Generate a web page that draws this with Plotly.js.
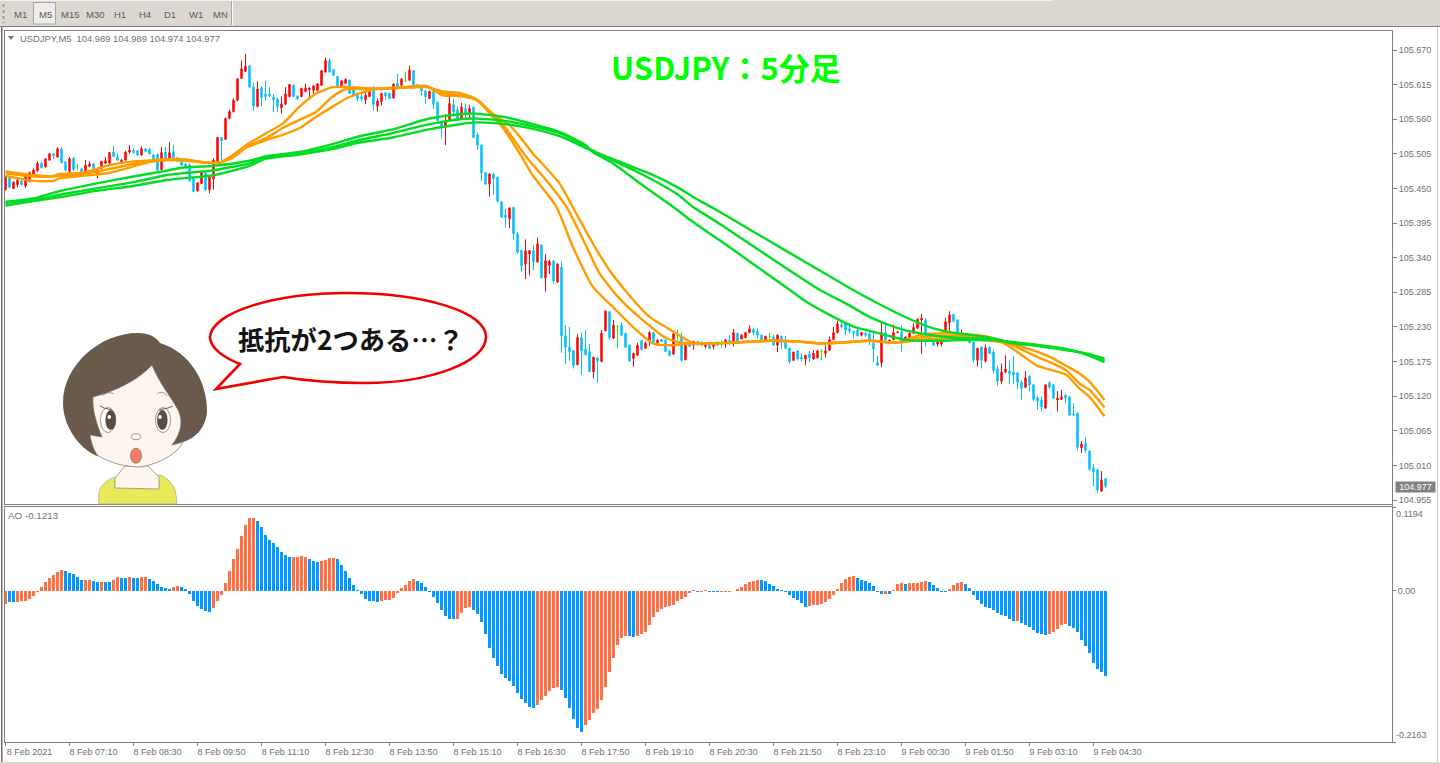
<!DOCTYPE html>
<html><head><meta charset="utf-8">
<script src="https://cdn.plot.ly/plotly-3.0.1.min.js"></script>
<style>html,body{margin:0;padding:0;background:#fff;overflow:hidden}#c{width:1440px;height:764px}</style>
</head><body><div id="c"></div>
<script>
const opens=[105.448,105.467,105.450,105.456,105.462,105.454,105.461,105.473,105.478,105.490,
105.484,105.495,105.505,105.500,105.513,105.492,105.477,105.498,105.485,105.481,
105.474,105.485,105.489,105.472,105.482,105.490,105.490,105.508,105.500,105.490,
105.495,105.508,105.510,105.510,105.503,105.513,105.512,105.503,105.504,105.480,
105.508,105.498,105.508,105.499,105.496,105.489,105.487,105.466,105.446,105.458,
105.475,105.448,105.465,105.493,105.531,105.528,105.561,105.572,105.590,105.625,
105.636,105.645,105.611,105.580,105.610,105.600,105.600,105.595,105.592,105.578,
105.584,105.596,105.614,105.597,105.596,105.604,105.607,105.606,105.606,105.614,
105.635,105.653,105.639,105.628,105.613,105.617,105.622,105.611,105.601,105.596,
105.591,105.596,105.605,105.581,105.588,105.602,105.601,105.594,105.617,105.614,
105.621,105.622,105.637,105.615,105.609,105.605,105.593,105.604,105.587,105.556,
105.547,105.558,105.583,105.575,105.561,105.577,105.570,105.579,105.535,105.519,
105.475,105.457,105.473,105.468,105.429,105.408,105.402,105.420,105.378,105.352,
105.330,105.346,105.351,105.333,105.360,105.308,105.328,105.335,105.301,105.325,
105.216,105.198,105.192,105.170,105.213,105.195,105.191,105.159,105.181,105.175,
105.224,105.254,105.212,105.231,105.233,105.220,105.201,105.180,105.185,105.208,
105.196,105.208,105.221,105.205,105.210,105.209,105.192,105.187,105.217,105.214,
105.178,105.205,105.201,105.207,105.206,105.199,105.205,105.199,105.206,105.204,
105.205,105.209,105.205,105.220,105.211,105.213,105.221,105.226,105.223,105.217,
105.209,105.215,105.214,105.201,105.215,105.209,105.196,105.177,105.192,105.182,
105.179,105.187,105.179,105.181,105.192,105.188,105.193,105.210,105.221,105.233,
105.235,105.227,105.223,105.225,105.217,105.220,105.219,105.204,105.174,105.173,
105.221,105.206,105.210,105.221,105.222,105.209,105.213,105.220,105.228,105.241,
105.241,105.220,105.208,105.203,105.203,105.220,105.237,105.250,105.241,105.212,
105.216,105.209,105.206,105.177,105.198,105.176,105.198,105.190,105.163,105.144,
105.158,105.160,105.158,105.157,105.142,105.134,105.152,105.138,105.117,105.114,
105.101,105.141,105.138,105.114,105.115,105.122,105.119,105.091,105.093,105.038,
105.045,105.033,105.006,105.003,104.969,104.989];
const highs=[105.470,105.470,105.461,105.465,105.464,105.472,105.477,105.482,105.493,105.493,
105.498,105.506,105.506,105.516,105.516,105.493,105.500,105.500,105.489,105.483,
105.495,105.493,105.490,105.481,105.494,105.500,105.508,105.518,105.506,105.497,
105.510,105.519,105.514,105.511,105.517,105.514,105.515,105.505,105.506,105.516,
105.516,105.524,105.519,105.500,105.497,105.490,105.490,105.467,105.460,105.478,
105.477,105.470,105.498,105.532,105.532,105.563,105.575,105.593,105.625,105.653,
105.664,105.646,105.618,105.620,105.612,105.621,105.611,105.600,105.594,105.596,
105.611,105.616,105.615,105.598,105.610,105.617,105.611,105.614,105.617,105.638,
105.658,105.657,105.640,105.629,105.622,105.625,105.623,105.612,105.602,105.604,
105.606,105.606,105.613,105.593,105.602,105.603,105.602,105.617,105.632,105.625,
105.635,105.645,105.638,105.616,105.610,105.606,105.606,105.605,105.588,105.557,
105.568,105.596,105.593,105.580,105.586,105.585,105.583,105.580,105.539,105.520,
105.476,105.474,105.474,105.469,105.430,105.418,105.420,105.421,105.381,105.353,
105.369,105.352,105.360,105.372,105.361,105.346,105.337,105.336,105.331,105.334,
105.233,105.230,105.193,105.219,105.221,105.225,105.203,105.183,105.182,105.225,
105.256,105.255,105.241,105.233,105.238,105.221,105.202,105.189,105.205,105.210,
105.207,105.224,105.222,105.211,105.211,105.210,105.193,105.220,105.226,105.222,
105.202,105.209,105.208,105.208,105.207,105.205,105.206,105.206,105.207,105.209,
105.211,105.217,105.227,105.221,105.219,105.222,105.233,105.229,105.228,105.218,
105.216,105.221,105.217,105.218,105.216,105.216,105.197,105.191,105.193,105.188,
105.186,105.192,105.193,105.194,105.194,105.201,105.215,105.230,105.240,105.237,
105.238,105.236,105.224,105.226,105.222,105.222,105.225,105.224,105.184,105.236,
105.237,105.210,105.234,105.223,105.233,105.215,105.224,105.236,105.244,105.251,
105.244,105.221,105.209,105.210,105.210,105.244,105.255,105.251,105.242,105.226,
105.217,105.210,105.207,105.197,105.199,105.202,105.199,105.194,105.168,105.172,
105.185,105.176,105.184,105.158,105.145,105.160,105.153,105.139,105.120,105.120,
105.139,105.144,105.139,105.128,105.130,105.123,105.120,105.109,105.094,105.049,
105.055,105.034,105.012,105.004,105.001,104.989];
const lows=[105.447,105.450,105.449,105.452,105.455,105.451,105.460,105.472,105.476,105.482,
105.483,105.494,105.497,105.499,105.490,105.477,105.474,105.478,105.479,105.476,
105.472,105.484,105.481,105.466,105.480,105.489,105.489,105.500,105.494,105.489,
105.494,105.505,105.506,105.502,105.502,105.508,105.504,105.495,105.478,105.479,
105.498,105.497,105.498,105.492,105.486,105.484,105.460,105.444,105.445,105.457,
105.446,105.442,105.448,105.492,105.495,105.527,105.560,105.571,105.589,105.624,
105.635,105.610,105.573,105.579,105.580,105.590,105.596,105.572,105.572,105.569,
105.583,105.595,105.595,105.590,105.595,105.603,105.593,105.600,105.604,105.613,
105.634,105.634,105.629,105.612,105.612,105.616,105.600,105.596,105.588,105.588,
105.584,105.595,105.574,105.572,105.582,105.591,105.592,105.592,105.610,105.613,
105.619,105.621,105.608,105.611,105.598,105.584,105.592,105.576,105.553,105.531,
105.519,105.557,105.564,105.559,105.560,105.560,105.561,105.530,105.511,105.462,
105.456,105.437,105.440,105.427,105.403,105.388,105.387,105.368,105.346,105.318,
105.306,105.312,105.320,105.332,105.307,105.286,105.314,105.299,105.300,105.189,
105.171,105.176,105.164,105.169,105.154,105.185,105.158,105.148,105.141,105.174,
105.223,105.209,105.211,105.196,105.216,105.197,105.175,105.167,105.184,105.193,
105.195,105.200,105.204,105.200,105.206,105.190,105.183,105.185,105.209,105.175,
105.177,105.198,105.194,105.200,105.199,105.196,105.195,105.194,105.200,105.197,
105.197,105.201,105.199,105.207,105.210,105.212,105.220,105.217,105.212,105.208,
105.208,105.210,105.200,105.190,105.195,105.195,105.171,105.176,105.178,105.175,
105.169,105.174,105.178,105.180,105.177,105.182,105.192,105.209,105.220,105.228,
105.217,105.220,105.212,105.215,105.215,105.214,105.201,105.174,105.168,105.166,
105.206,105.205,105.209,105.220,105.190,105.208,105.212,105.219,105.227,105.187,
105.199,105.208,105.200,105.199,105.199,105.219,105.222,105.237,105.211,105.209,
105.208,105.204,105.173,105.167,105.164,105.173,105.187,105.156,105.136,105.139,
105.157,105.139,105.139,105.131,105.115,105.133,105.128,105.112,105.098,105.096,
105.100,105.131,105.116,105.096,105.114,105.109,105.088,105.088,105.034,105.030,
105.030,105.001,104.977,104.966,104.968,104.974];
const closes=[105.469,105.452,105.460,105.463,105.456,105.469,105.475,105.479,105.490,105.483,
105.497,105.505,105.502,105.513,105.491,105.479,105.497,105.480,105.485,105.477,
105.487,105.489,105.482,105.480,105.493,105.494,105.507,105.501,105.495,105.495,
105.508,105.511,105.507,105.503,105.513,105.509,105.505,105.496,105.479,105.507,
105.499,105.507,105.499,105.493,105.487,105.485,105.463,105.445,105.459,105.477,
105.448,105.469,105.495,105.531,105.526,105.561,105.572,105.590,105.624,105.640,
105.644,105.611,105.581,105.608,105.595,105.596,105.597,105.591,105.580,105.584,
105.600,105.615,105.596,105.593,105.609,105.609,105.609,105.613,105.616,105.637,
105.653,105.635,105.630,105.613,105.621,105.623,105.601,105.597,105.592,105.592,
105.598,105.605,105.584,105.589,105.601,105.597,105.593,105.616,105.611,105.624,
105.621,105.638,105.614,105.612,105.605,105.596,105.604,105.584,105.558,105.547,
105.556,105.585,105.572,105.561,105.579,105.569,105.577,105.531,105.519,105.475,
105.457,105.473,105.466,105.430,105.405,105.404,105.419,105.378,105.349,105.327,
105.351,105.351,105.333,105.362,105.308,105.335,105.334,105.303,105.330,105.216,
105.198,105.191,105.168,105.213,105.192,105.186,105.159,105.182,105.176,105.220,
105.255,105.213,105.233,105.231,105.217,105.198,105.176,105.188,105.201,105.194,
105.204,105.221,105.207,105.209,105.207,105.191,105.185,105.219,105.217,105.177,
105.201,105.199,105.207,105.202,105.201,105.204,105.196,105.205,105.201,105.204,
105.209,105.204,105.221,105.208,105.217,105.221,105.227,105.221,105.217,105.209,
105.215,105.215,105.201,105.217,105.209,105.196,105.175,105.190,105.179,105.179,
105.185,105.181,105.188,105.192,105.192,105.192,105.210,105.221,105.235,105.230,
105.225,105.223,105.220,105.216,105.221,105.217,105.209,105.195,105.169,105.221,
105.209,105.209,105.221,105.222,105.205,105.214,105.220,105.229,105.242,105.244,
105.220,105.209,105.201,105.209,105.209,105.238,105.249,105.239,105.212,105.218,
105.209,105.205,105.177,105.196,105.177,105.197,105.188,105.161,105.144,105.158,
105.163,105.156,105.154,105.142,105.133,105.149,105.138,105.115,105.112,105.103,
105.138,105.134,105.117,105.117,105.119,105.117,105.090,105.090,105.039,105.044,
105.034,105.004,105.000,104.971,104.987,104.977];

const aoValues=[-.0186,-.0158,-.0158,-.0158,-.0143,-.0143,-.0115,-.0072,-.0014,.0057,
.0129,.0186,.0229,.0272,.0301,.0286,.0258,.0243,.0200,.0158,
.0158,.0158,.0143,.0129,.0129,.0129,.0129,.0158,.0200,.0186,
.0186,.0200,.0186,.0186,.0200,.0200,.0172,.0143,.0100,.0057,
.0043,.0033,.0057,.0072,.0057,.0029,-.0043,-.0143,-.0215,-.0258,
-.0286,-.0301,-.0243,-.0143,-.0057,.0115,.0286,.0458,.0601,.0787,
.0944,.1045,.1045,.1002,.0916,.0801,.0730,.0687,.0630,.0558,
.0515,.0487,.0487,.0487,.0501,.0491,.0458,.0429,.0415,.0429,
.0444,.0472,.0472,.0458,.0372,.0286,.0186,.0086,.0014,-.0043,
-.0115,-.0143,-.0143,-.0158,-.0143,-.0129,-.0129,-.0100,-.0029,.0043,
.0086,.0143,.0172,.0143,.0115,.0057,-.0010,-.0086,-.0172,-.0272,
-.0358,-.0401,-.0401,-.0401,-.0315,-.0243,-.0229,-.0272,-.0329,-.0444,
-.0615,-.0816,-.0959,-.1073,-.1188,-.1245,-.1288,-.1359,-.1460,-.1545,
-.1603,-.1660,-.1674,-.1631,-.1560,-.1503,-.1431,-.1388,-.1374,-.1417,
-.1531,-.1674,-.1832,-.1960,-.2018,-.1918,-.1846,-.1746,-.1689,-.1560,
-.1374,-.1159,-.0959,-.0773,-.0673,-.0644,-.0644,-.0658,-.0644,-.0615,
-.0587,-.0487,-.0372,-.0301,-.0258,-.0229,-.0215,-.0200,-.0143,-.0115,
-.0086,-.0024,.0014,-.0010,-.0010,.0010,-.0010,-.0010,-.0019,-.0010,
-.0010,-.0010,.0005,.0029,.0057,.0100,.0129,.0143,.0158,.0158,
.0143,.0100,.0072,.0029,.0014,-.0010,-.0057,-.0100,-.0129,-.0172,
-.0229,-.0215,-.0200,-.0200,-.0186,-.0158,-.0115,-.0057,.0029,.0115,
.0172,.0200,.0215,.0186,.0158,.0143,.0115,.0072,-.0010,-.0043,
-.0043,-.0043,.0014,.0100,.0115,.0100,.0115,.0115,.0115,.0129,
.0143,.0129,.0086,.0043,-.0010,-.0010,.0029,.0086,.0115,.0129,
.0100,.0043,-.0057,-.0129,-.0186,-.0229,-.0243,-.0272,-.0315,-.0344,
-.0358,-.0401,-.0429,-.0429,-.0458,-.0487,-.0515,-.0558,-.0601,-.0615,
-.0630,-.0615,-.0587,-.0544,-.0487,-.0472,-.0501,-.0529,-.0587,-.0701,
-.0787,-.0887,-.1030,-.1116,-.1159,-.1213];
// alternating run lengths of the AO colour, starting with orange
const aoColourRuns=[1,2,12,5,2,2,1,2,2,2,1,2,2,6,2,8,11,9,4,3,4,11,9,10,4,16,6,6,11,2,15,1,2,3,10,12,12,7,1,1,3,1,5,5,4,13,1,7,5,10];

const orange1Bars=[0,7,12,13.5,19.3,26,32,36,41.8,45.2,50.2,53.5,56.8,60.2,65.2,69.3,73.5,77.7,81.8,85.2,88.5,92.7,99.3,105.2,109.3,113.5,117.7,121.8,124.3,128.5,131.8,137.7,141.8,146.8,151.8,157.7,161.8,166.8,170.6,178.5,191,197.7,203.5,208.5,216,222.7,228.5,235.2,244.3,249.3,253.5,257.7,261.8,265.2,268.5,271,274.75];
const orange1=[105.477,105.471,105.470,105.473,105.475,105.487,105.493,105.494,105.497,105.496,105.491,105.491,105.503,105.519,105.538,105.553,105.580,105.601,105.611,105.611,105.610,105.609,105.611,105.613,105.598,105.597,105.591,105.564,105.547,105.506,105.471,105.421,105.358,105.294,105.262,105.225,105.204,105.201,105.204,105.204,105.208,105.207,105.204,105.205,105.208,105.205,105.209,105.212,105.209,105.205,105.188,105.169,105.161,105.154,105.132,105.119,105.088];
const orange2Bars=[0,7,12,13.5,19.3,26,32,36,41.8,45.2,50.2,53.5,56.8,60.2,65.2,69.3,73.5,77.7,81.8,85.2,88.5,92.7,99.3,105.2,109.3,113.5,117.7,121.8,124.3,130.2,135.2,140.2,145.2,148.5,153.5,159.3,165.2,170.2,178.5,191,197.7,203.5,208.5,216,222.7,228.5,235.2,244.3,249.3,253.5,257.7,261.8,265.2,268.5,271,274.75];
const orange2=[105.474,105.469,105.469,105.470,105.473,105.481,105.489,105.494,105.496,105.495,105.491,105.491,105.502,105.516,105.530,105.546,105.559,105.572,105.596,105.608,105.608,105.608,105.610,105.612,105.602,105.598,105.591,105.567,105.552,105.500,105.463,105.421,105.358,105.315,105.275,105.241,105.212,105.204,105.204,105.208,105.207,105.204,105.205,105.208,105.205,105.213,105.216,105.212,105.207,105.196,105.183,105.172,105.161,105.140,105.130,105.102];
const orange3Bars=[0,7,12,13.5,19.3,26,32,36,41.8,45.2,50.2,53.5,56.8,60.2,65.2,69.3,73.5,77.7,81.8,85.2,88.5,92.7,99.3,105.2,109.3,113.5,117.7,121.8,126,131.8,138.5,142.7,146.8,151,155.2,161,167.7,171.8,178.5,191,197.7,203.5,208.5,216,222.7,228.5,235.2,244.3,249.3,253.5,257.7,261.8,265.2,268.5,271,274.75];
const orange3=[105.470,105.462,105.462,105.466,105.470,105.475,105.485,105.492,105.495,105.494,105.491,105.491,105.499,105.515,105.527,105.535,105.546,105.564,105.580,105.593,105.601,105.608,105.610,105.611,105.604,105.602,105.592,105.569,105.551,105.506,105.458,105.410,105.363,105.320,105.286,105.246,105.220,105.205,105.204,105.208,105.207,105.204,105.205,105.208,105.205,105.217,105.220,105.216,105.208,105.200,105.191,105.180,105.168,105.156,105.143,105.114];

const green1Bars=[0,7,13.5,23.5,32,40,44,52,61,65,73.5,82,88.5,96.8,105.2,113.5,117.7,125.2,130.2,138.5,145.2,146.8,151.8,159.3,167.7,171.8,178.5,196,200.2,205.2,211.8,217.7,225.2,231.8,238.5,246.8,251.8,257.7,265.2,270.2,274.75];
const green1=[105.429,105.434,105.446,105.459,105.469,105.478,105.483,105.486,105.494,105.501,105.508,105.521,105.533,105.544,105.560,105.568,105.569,105.563,105.555,105.540,105.518,105.508,105.490,105.455,105.417,105.397,105.368,105.289,105.270,105.252,105.231,105.221,105.209,105.208,105.209,105.209,105.206,105.202,105.195,105.186,105.174];
const green2Bars=[0,7,13.5,23.5,32,40,44,52,61,65,73.5,82,88.5,96.8,105.2,113.5,117.7,125.2,130.2,138.5,145.2,149.3,157.7,167.7,171.8,178.5,203.5,210.2,216,222.7,228.5,235.2,240.2,246.8,251.8,257.7,265.2,270.2,274.75];
const green2=[105.427,105.432,105.440,105.451,105.460,105.471,105.474,105.479,105.490,105.499,105.506,105.516,105.527,105.538,105.551,105.560,105.561,105.557,105.551,105.538,105.516,105.502,105.477,105.442,105.421,105.394,105.289,105.267,105.246,105.229,105.220,105.214,105.212,105.211,105.205,105.201,105.194,105.187,105.177];
const green3Bars=[0,7,13.5,23.5,32,40,44,52,61,65,73.5,82,88.5,96.8,105.2,113.5,117.7,125.2,130.2,138.5,145.2,149.3,157.7,161,167.7,171.8,178.5,211.8,218.5,225.2,231.8,236.8,241.8,246.8,251.8,257.7,265.2,270.2,274.75];
const green3=[105.423,105.430,105.436,105.447,105.454,105.463,105.466,105.471,105.486,105.497,105.504,105.513,105.523,105.531,105.543,105.552,105.555,105.552,105.547,105.533,105.514,105.503,105.482,105.474,105.453,105.437,105.413,105.289,105.266,105.245,105.228,105.221,105.217,105.212,105.204,105.200,105.193,105.188,105.180];

const priceTicks=[105.670,105.615,105.560,105.505,105.450,105.395,105.340,105.285,105.230,105.175,105.120,105.065,105.010,104.955];
const timeTickBars=[0,16,32,48,64,80,96,112,128,144,160,176,192,208,224,240,256,272];
const timeTickLabels=['8 Feb 2021','8 Feb 07:10','8 Feb 08:30','8 Feb 09:50','8 Feb 11:10','8 Feb 12:30','8 Feb 13:50','8 Feb 15:10','8 Feb 16:30','8 Feb 17:50','8 Feb 19:10','8 Feb 20:30','8 Feb 21:50','8 Feb 23:10','9 Feb 00:30','9 Feb 01:50','9 Feb 03:10','9 Feb 04:30'];
const periods=['M1','M5','M15','M30','H1','H4','D1','W1','MN'];
const periodCentres=[20,45,70,95,120,145,170,196,220];

// ---- helpers: page pixels to paper fractions (margins are zero)
const W=1440,H=764;
const px=x=>x/W, py=y=>1-y/H;
const pathPx=s=>s.replace(/(-?\d+\.?\d*)\s+(-?\d+\.?\d*)/g,(m,a,b)=>px(+a).toFixed(5)+' '+py(+b).toFixed(5));
const P={xref:'paper',yref:'paper'};
const rect=(x0,y0,x1,y1,fill,line)=>({...P,type:'rect',x0:px(x0),x1:px(x1),y0:py(y0),y1:py(y1),fillcolor:fill,line:line||{width:0}});
const ell=(cx,cy,rx,ry,fill,line)=>({...P,type:'circle',x0:px(cx-rx),x1:px(cx+rx),y0:py(cy+ry),y1:py(cy-ry),fillcolor:fill,line:line||{width:0}});
const path=(d,fill,line)=>({...P,type:'path',path:pathPx(d),fillcolor:fill||'rgba(0,0,0,0)',line:line||{width:0}});
const seg=(x0,y0,x1,y1,c,w,dash)=>({...P,type:'line',x0:px(x0),x1:px(x1),y0:py(y0),y1:py(y1),line:{color:c,width:w,dash:dash||'solid'}});

const FONT='"Liberation Sans",Arial,sans-serif', GREY='#707070';
const UP='#ff0000',DOWN='#00bfff',DOJI='#00ff00',OR='#ff9c00',GR='#00dd22';

const bars=opens.map((_,i)=>i);
function candleTrace(test,colIn,colDe){
  const idx=bars.filter(i=>test(opens[i],closes[i]));
  return {type:'candlestick',x:idx,open:idx.map(i=>opens[i]),high:idx.map(i=>highs[i]),low:idx.map(i=>lows[i]),close:idx.map(i=>closes[i]),
    increasing:{line:{color:colIn,width:1},fillcolor:colIn},decreasing:{line:{color:colDe,width:1},fillcolor:colDe},
    whiskerwidth:0,hoverinfo:'skip',showlegend:false,xaxis:'x',yaxis:'y'};
}
const ma=(x,y,c)=>({type:'scatter',mode:'lines',x:x,y:y,line:{color:c,width:2.4,shape:'spline',smoothing:0.6},hoverinfo:'skip',showlegend:false,xaxis:'x',yaxis:'y'});
let flag=0;const aoColours=[];
aoColourRuns.forEach(n=>{for(let k=0;k<n;k++)aoColours.push(flag?'#0099ff':'#ff7043');flag=1-flag;});

const traces=[
  candleTrace((o,c)=>c>o,UP,UP),candleTrace((o,c)=>c<o,DOWN,DOWN),candleTrace((o,c)=>c===o,DOJI,DOJI),
  ma(orange1Bars,orange1,OR),ma(orange2Bars,orange2,OR),ma(orange3Bars,orange3,OR),
  ma(green1Bars,green1,GR),ma(green2Bars,green2,GR),ma(green3Bars,green3,GR),
  {type:'bar',x:bars,y:aoValues,width:0.75,marker:{color:aoColours,line:{width:0}},hoverinfo:'skip',showlegend:false,xaxis:'x2',yaxis:'y2'}
];

const xr=[-0.125,346.625];
const axisBase={showgrid:false,zeroline:false,showline:true,linecolor:'#808080',linewidth:1,mirror:true,ticks:'outside',tickcolor:'#808080',tickfont:{family:FONT,size:9,color:GREY}};
const layout={
  width:W,height:H,margin:{l:0,r:0,t:0,b:0,pad:0},paper_bgcolor:'#fff',plot_bgcolor:'#fff',
  boxmode:'overlay',boxgap:0.5,bargap:0,showlegend:false,
  xaxis:{...axisBase,domain:[px(5),px(1392)],range:xr,anchor:'y',ticks:'',showticklabels:false,rangeslider:{visible:false},fixedrange:true},
  xaxis2:{...axisBase,domain:[px(5),px(1392)],range:xr,anchor:'y2',tickmode:'array',tickvals:timeTickBars,ticktext:timeTickLabels,ticklen:3,ticklabelshift:24,ticklabelstandoff:-2,fixedrange:true,rangeslider:{visible:false}},
  yaxis:{...axisBase,domain:[py(504),py(31)],range:[104.9487,105.7002],anchor:'x',side:'right',tickmode:'array',tickvals:priceTicks,ticktext:priceTicks.map(v=>v.toFixed(3)),ticklen:4,fixedrange:true},
  yaxis2:{...axisBase,domain:[py(742),py(507)],range:[-0.2163,0.1203],anchor:'x2',side:'right',tickmode:'array',tickvals:[0.1194,0,-0.2163],ticktext:['','0.00',''],ticklen:3,fixedrange:true},
  shapes:[
    // window chrome
    rect(0,0,1440,26,'#dcd8d1'),rect(0,0,1053,1,'#f6f4f1'),seg(0,26.5,1440,26.5,'#7f7f7f',1),
    rect(1,27,2.5,764,'#6f6f6f'),seg(1437.5,27,1437.5,764,'#c8c8c8',1),rect(0,762,1440,764,'#dcd8d1'),
    seg(3.5,4,3.5,23,'#9a9a9a',2,'dot'),
    rect(33.5,2.5,55.5,24,'#efedea',{color:'#a8a8a8',width:1}),
    seg(231.5,1,231.5,25,'#a8a4a0',1),seg(232.5,1,232.5,25,'#ffffff',1),
    seg(1392.5,504,1392.5,507,'#808080',1),
    // chart menu triangle
    path('M 8 36 L 14 36 L 11 40 Z','#777777'),
    // portrait
    path('M 99 504 C 98 495 99 489 102 486 C 105 482 109 479 115 477 L 161 475 C 168 479 173 484 175 490 C 176 495 177 499 177 504 Z','#e8ea5a',{color:'#a7a58a',width:0.7}),
    path('M 125 466 L 115 478 L 115 488 L 159 489 L 159 477 L 148 466 Z','#fdf5ee',{color:'#8a7d70',width:0.7}),
    path('M 97 456 C 78 448 63 425 63 403 C 63 365 100 333 138 333 C 149 333 156 337 160 343 C 190 352 207 382 207 410 C 207 425 197 438 183 442 L 170 448 L 110 456 Z','#695a4c'),
    path('M 93 397 C 120 390 140 378 152 365 C 160 385 172 398 178 410 C 183 420 182 432 172 445 L 183 442 C 178 453 160 464 140 467 C 120 467 105 460 97 455 C 93 448 91 442 90 435 L 102 437 C 97 425 92 410 93 397 Z','#fdf5ee',{color:'#7d7065',width:0.7}),
    ell(108,420,7.5,12.5,'#ffffff',{color:'#77695c',width:0.7}),ell(163,420,7.5,12.5,'#ffffff',{color:'#77695c',width:0.7}),
    ell(110.7,420,5.3,10,'#5a4c41'),ell(162.3,420,5.3,10,'#5a4c41'),ell(109.3,417,1.8,2,'#ffffff'),ell(160,417,1.8,2,'#ffffff'),
    path('M 103 396 C 105 392 111 392 114 394',null,{color:'#7d7065',width:0.7}),
    path('M 157 394 C 160 391 165 392 167 396',null,{color:'#7d7065',width:0.7}),
    path('M 100 406 L 104 408 L 112 410',null,{color:'#5a4c41',width:0.9}),
    path('M 173 406 L 168 408 L 159 410',null,{color:'#5a4c41',width:0.9}),
    ell(136,436.7,4.5,3,'#fff8f2',{color:'#77695c',width:0.7}),
    ell(136,455.7,5.5,7.5,'#fc7a64',{color:'#77695c',width:0.7}),
    // speech bubble
    path('M 240 364 C 222 357 210 347 210 337 C 212 312 275 293 347 293 C 425 293 486 312 486 337 C 486 362 430 383 365 383 C 335 383 308 381 283 377 L 216 389 Z','#ffffff',{color:'#f00000',width:2.6})
  ],
  annotations:[
    ...periods.map((t,i)=>({...P,x:px(periodCentres[i]),y:py(14.5),text:t,showarrow:false,xanchor:'center',yanchor:'middle',font:{family:FONT,size:9.5,color:'#585858'}})),
    {...P,x:px(20),y:py(38.5),text:'USDJPY,M5&nbsp;&nbsp;104.989 104.989 104.974 104.977',showarrow:false,xanchor:'left',yanchor:'middle',xshift:-2,font:{family:FONT,size:9.4,color:GREY}},
    {...P,x:px(8),y:py(515),text:'AO -0.1213',showarrow:false,xanchor:'left',yanchor:'middle',xshift:-2,font:{family:FONT,size:9.8,color:GREY}},
    {...P,x:px(726),y:py(66.5),text:'<b>USDJPY：5分足</b>',showarrow:false,xanchor:'center',yanchor:'middle',font:{family:'"Noto Sans CJK JP"',size:31,color:'#00ff00'}},
    {...P,x:px(351),y:py(338.5),text:'<b>抵抗が2つある…？</b>',showarrow:false,xanchor:'center',yanchor:'middle',font:{family:'"Noto Sans CJK JP"',size:26.3,color:'#141414'}},
    {xref:'paper',yref:'paper',x:px(1395),y:py(487),text:'104.977',showarrow:false,xanchor:'left',yanchor:'middle',width:39,height:10,align:'center',bgcolor:'#808080',borderpad:0,font:{family:FONT,size:9,color:'#ffffff'}},
    {xref:'paper',yref:'y2',x:px(1396),y:0.1194,yshift:-6,text:'0.1194',showarrow:false,xanchor:'left',yanchor:'middle',xshift:-2,font:{family:FONT,size:9,color:GREY}},
    {xref:'paper',yref:'y2',x:px(1396),y:-0.2163,yshift:7,text:'-0.2163',showarrow:false,xanchor:'left',yanchor:'middle',xshift:-2,font:{family:FONT,size:9,color:GREY}}
  ]
};
Plotly.newPlot('c',traces,layout,{displayModeBar:false,staticPlot:true});
</script></body></html>
